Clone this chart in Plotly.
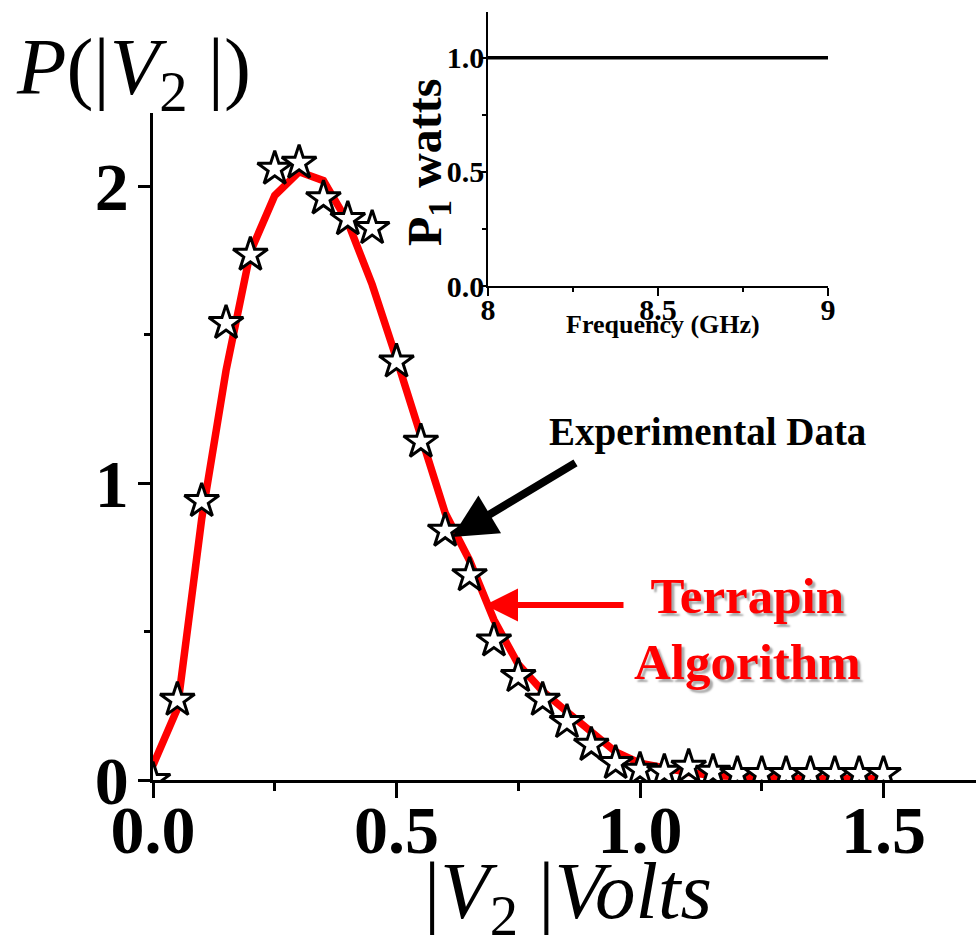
import plotly.graph_objects as go

# ---------------- data ----------------
v_exp = [0.00, 0.05, 0.10, 0.15, 0.20, 0.25, 0.30, 0.35, 0.40, 0.45, 0.50,
         0.55, 0.60, 0.65, 0.70, 0.75, 0.80, 0.85, 0.90, 0.95, 1.00,
         1.05, 1.10, 1.15, 1.20, 1.25, 1.30, 1.35, 1.40, 1.45, 1.50]
p_exp = [0.00, 0.27, 0.94, 1.54, 1.77, 2.06, 2.08, 1.96, 1.89, 1.86, 1.41,
         1.14, 0.84, 0.69, 0.47, 0.35, 0.27, 0.195, 0.118, 0.057, 0.034,
         0.027, 0.044, 0.027, 0.02, 0.02, 0.02, 0.02, 0.02, 0.02, 0.02]

v_alg = [0.00, 0.05, 0.10, 0.15, 0.20, 0.25, 0.30, 0.35, 0.40, 0.45, 0.50,
         0.55, 0.60, 0.65, 0.70, 0.75, 0.80, 0.85, 0.90, 0.95, 1.00,
         1.05, 1.10, 1.15, 1.20, 1.25, 1.30, 1.35, 1.40, 1.45, 1.50]
p_alg = [0.05, 0.24, 0.88, 1.38, 1.78, 1.97, 2.05, 2.02, 1.88, 1.67, 1.42,
         1.17, 0.90, 0.74, 0.54, 0.39, 0.30, 0.23, 0.16, 0.095, 0.057,
         0.04, 0.025, 0.015, 0.01, 0.005, 0.005, 0.005, 0.005, 0.005, 0.005]

freq = [8.0, 9.0]
p1 = [1.0, 1.0]

x_ticks = [0.0, 0.5, 1.0, 1.5]
x_ticktext = ["0.0", "0.5", "1.0", "1.5"]
y_ticks = [0, 1, 2]
y_ticktext = ["0", "1", "2"]
x2_ticks = [8, 8.5, 9]
x2_ticktext = ["8", "8.5", "9"]
y2_ticks = [0.0, 0.5, 1.0]
y2_ticktext = ["0.0", "0.5", "1.0"]

SERIF = "Liberation Serif, Times New Roman, serif"

fig = go.Figure()

fig.add_trace(go.Scatter(
    x=v_alg, y=p_alg, mode="lines",
    line=dict(color="#ff0000", width=7.5),
    xaxis="x", yaxis="y", showlegend=False))

fig.add_trace(go.Scatter(
    x=v_exp, y=p_exp, mode="markers",
    marker=dict(symbol="star", size=26, color="white",
                line=dict(color="black", width=3)),
    xaxis="x", yaxis="y", showlegend=False))

fig.add_trace(go.Scatter(
    x=freq, y=p1, mode="lines",
    line=dict(color="black", width=3.5),
    xaxis="x2", yaxis="y2", showlegend=False))

# plot area: left 153, right 976, top 10, bottom 780
L, R, T, B = 153, 0, 10, 163
W = 976 - L - R
H = 943 - T - B


def px(xp):
    return (xp - L) / W


def py(yp):
    return (780 - yp) / H


fig.update_layout(
    width=976, height=943, autosize=False,
    margin=dict(l=L, r=R, t=T, b=B, pad=0, autoexpand=False),
    paper_bgcolor="white", plot_bgcolor="white",
    showlegend=False,
    xaxis=dict(
        domain=[0, 1], range=[0, 823 / 487], anchor="y", automargin=False,
        showgrid=False, zeroline=False,
        showline=True, linecolor="black", linewidth=2.5,
        ticks="outside", ticklen=15, tickwidth=2.5, tickcolor="black",
        tickvals=x_ticks, ticktext=x_ticktext, ticklabelstandoff=-26,
        tickfont=dict(family=SERIF, size=68, color="black", weight="bold"),
        minor=dict(dtick=0.25, tick0=0, ticks="outside", ticklen=8,
                   tickwidth=2.5, tickcolor="black", showgrid=False),
    ),
    yaxis=dict(
        domain=[0, py(113)], range=[0, 667 / 296.7], anchor="x",
        automargin=False,
        showgrid=False, zeroline=False,
        showline=True, linecolor="black", linewidth=2.5,
        ticks="outside", ticklen=12, tickwidth=2.5, tickcolor="black",
        tickvals=y_ticks, ticktext=y_ticktext, ticklabelstandoff=-4,
        tickfont=dict(family=SERIF, size=68, color="black", weight="bold"),
        minor=dict(dtick=0.5, tick0=0, ticks="outside", ticklen=6,
                   tickwidth=2.5, tickcolor="black", showgrid=False),
    ),
    xaxis2=dict(
        domain=[px(488), px(828)], range=[8, 9], anchor="y2",
        automargin=False,
        showgrid=False, zeroline=False,
        showline=True, linecolor="black", linewidth=1.5,
        ticks="outside", ticklen=8, tickwidth=1.5, tickcolor="black",
        tickvals=x2_ticks, ticktext=x2_ticktext, ticklabelstandoff=-12,
        tickfont=dict(family=SERIF, size=30, color="black", weight="bold"),
        minor=dict(dtick=0.25, tick0=8, ticks="outside", ticklen=4,
                   tickwidth=1.5, tickcolor="black", showgrid=False),
    ),
    yaxis2=dict(
        domain=[py(286), py(12)], range=[0, 1.2], anchor="x2",
        automargin=False,
        showgrid=False, zeroline=False,
        showline=True, linecolor="black", linewidth=1.5,
        ticks="outside", ticklen=6, tickwidth=1.5, tickcolor="black",
        tickvals=y2_ticks, ticktext=y2_ticktext, ticklabelstandoff=-10,
        tickfont=dict(family=SERIF, size=30, color="black", weight="bold"),
        minor=dict(dtick=0.25, tick0=0, ticks="outside", ticklen=4,
                   tickwidth=1.5, tickcolor="black", showgrid=False),
    ),
)

annotations = [
    # main y title
    dict(text="<i>P</i>(|<i>V</i><sub>2</sub> |)", x=px(133), y=py(72),
         xref="paper", yref="paper", xanchor="center", yanchor="middle",
         showarrow=False, font=dict(family=SERIF, size=81, color="black")),
    # main x title
    dict(text="|<i>V</i><sub>2</sub> |<i>Volts</i>", x=px(568), y=py(896),
         xref="paper", yref="paper", xanchor="center", yanchor="middle",
         showarrow=False, font=dict(family=SERIF, size=81, color="black")),
    # inset y title
    dict(text="P<sub>1</sub> watts", x=px(428), y=py(163), textangle=-90,
         xref="paper", yref="paper", xanchor="center", yanchor="middle",
         showarrow=False,
         font=dict(family=SERIF, size=48, color="black", weight="bold")),
    # inset x title
    dict(text="Frequency (GHz)", x=px(663), y=py(324),
         xref="paper", yref="paper", xanchor="center", yanchor="middle",
         showarrow=False,
         font=dict(family=SERIF, size=26, color="black", weight="bold")),
    # Experimental data label
    dict(text="Experimental Data", x=px(707), y=py(432),
         xref="paper", yref="paper", xanchor="center", yanchor="middle",
         showarrow=False,
         font=dict(family=SERIF, size=39, color="black", weight="bold")),
    # Terrapin label
    dict(text="Terrapin<br>Algorithm", x=px(747), y=py(629),
         xref="paper", yref="paper", xanchor="center", yanchor="middle",
         align="center", showarrow=False,
         font=dict(family=SERIF, size=51, color="#ff0000", weight="bold",
                   shadow="3px 3px 2px #aaaaaa")),
    # black arrow
    dict(text="", x=px(452), y=py(537), xref="paper", yref="paper",
         showarrow=True, axref="pixel", ayref="pixel", ax=125, ay=-75,
         arrowhead=2, arrowsize=1.1, arrowwidth=8, arrowcolor="black",
         standoff=0),
    # red arrow
    dict(text="", x=px(485), y=py(605), xref="paper", yref="paper",
         showarrow=True, axref="pixel", ayref="pixel", ax=140, ay=0,
         arrowhead=2, arrowsize=1.1, arrowwidth=6, arrowcolor="#ff0000",
         standoff=0),
]
fig.update_layout(annotations=annotations)

fig.write_html("out.html",
               config={"displayModeBar": False, "responsive": False},
               post_script="document.body.style.margin='0px';")
